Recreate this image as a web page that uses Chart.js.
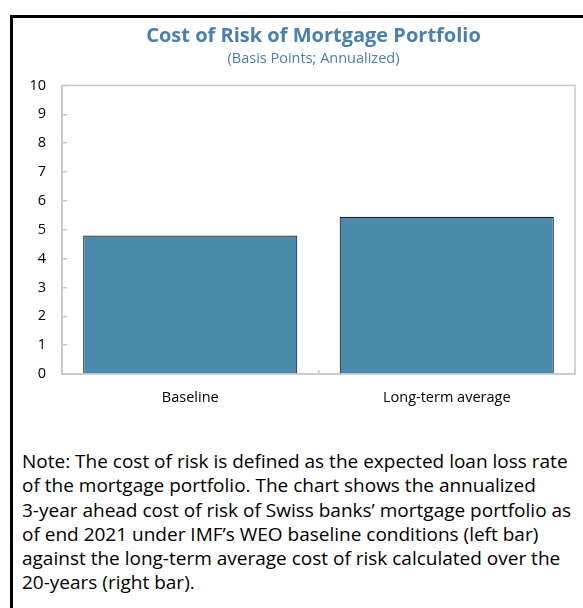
<!DOCTYPE html>
<html>
<head>
<meta charset="utf-8">
<script src="https://cdn.jsdelivr.net/npm/chart.js@4.4.0/dist/chart.umd.min.js"></script>
<style>
  html, body { margin: 0; padding: 0; background: #fff; }
  body { width: 583px; height: 608px; position: relative; overflow: hidden; font-family: "Open Sans", "Noto Sans", sans-serif; }
  #frame { position: absolute; left: 10px; top: 15px; width: 580px; height: 600px; border-left: 3px solid #000; border-top: 3px solid #000; }
  #wrap { position: absolute; left: 0; top: 0; width: 583px; height: 420px; }
  #note { position: absolute; left: 22px; top: 449px; font-size: 19px; line-height: 24.3px; color: #000; white-space: nowrap; }
</style>
</head>
<body>
<div id="frame"></div>
<div id="wrap"><canvas id="riskChart" width="583" height="420"></canvas></div>
<div id="note">
Note: The cost of risk is defined as the expected loan loss rate<br>
of the mortgage portfolio. The chart shows the annualized<br>
3-year ahead cost of risk of Swiss banks’ mortgage portfolio as<br>
of end 2021 under IMF’s WEO baseline conditions (left bar)<br>
against the long-term average cost of risk calculated over the<br>
20-years (right bar).
</div>
<script>
// chart data
const categories = ["Baseline", "Long-term average"];
const costOfRisk = [4.8, 5.45];
const yTicks = [0, 1, 2, 3, 4, 5, 6, 7, 8, 9, 10];

const titleBlue = "#4a7fb0";
const axisGray = "#c8c8c8";
const fontFamily = "'Open Sans', 'Noto Sans', sans-serif";

// light gray box around the plot (top and right edges)
const plotFrame = {
  id: "plotFrame",
  afterLayout(chart) {
    // titles sit a little left of the plot centre in the original
    chart.boxes.forEach((b) => {
      if (b.position === "top" && b.options && b.options.text !== undefined) {
        b.left -= 5;
        b.right -= 5;
      }
    });
  },
  beforeDatasetsDraw(chart) {
    const a = chart.chartArea;
    const c = chart.ctx;
    c.save();
    c.strokeStyle = axisGray;
    c.lineWidth = 1.5;
    c.strokeRect(a.left, a.top, a.right - a.left, a.bottom - a.top);
    c.restore();
  }
};

document.addEventListener("DOMContentLoaded", () => {
  const ctx = document.getElementById("riskChart").getContext("2d");

  new Chart(ctx, {
    type: "bar",
    data: {
      labels: categories,
      datasets: [{
        label: "Cost of risk",
        data: costOfRisk,
        backgroundColor: "#4a8aab",
        borderColor: "#1e2a33",
        borderWidth: 1.2,
        borderSkipped: "bottom",
        categoryPercentage: 0.835,
        barPercentage: 1.0,
      }],
    },
    options: {
      responsive: false,
      animation: false,
      layout: { padding: { left: 0, right: 8, top: 0, bottom: 0 } },
      plugins: {
        legend: { display: false },
        tooltip: { enabled: false },
        title: {
          display: true,
          fullSize: false,
          text: "Cost of Risk of Mortgage Portfolio",
          color: titleBlue,
          font: { family: fontFamily, size: 20, weight: "bold" },
          padding: { top: 24, bottom: 0 },
        },
        subtitle: {
          display: true,
          fullSize: false,
          text: "(Basis Points; Annualized)",
          color: titleBlue,
          font: { family: fontFamily, size: 14.5 },
          padding: { top: 2, bottom: 18 },
        },
      },
      scales: {
        x: {
          afterFit: (scale) => { scale.height = 46; },
          border: { color: axisGray, width: 1.5 },
          grid: { offset: true, drawOnChartArea: false, tickLength: -4, color: axisGray, lineWidth: 1.5 },
          ticks: { color: "#000", padding: 19, font: { family: fontFamily, size: 14.5 } },
        },
        y: {
          min: 0,
          max: 10,
          afterFit: (scale) => { scale.width = 62; },
          afterBuildTicks: (scale) => { scale.ticks = yTicks.map((v) => ({ value: v })); },
          border: { color: axisGray, width: 1.5 },
          grid: { drawOnChartArea: false, tickLength: -5, color: axisGray, lineWidth: 1.5 },
          ticks: { color: "#000", padding: 21, font: { family: fontFamily, size: 14.5 } },
        },
      },
    },
    plugins: [plotFrame],
  });
});
</script>
</body>
</html>
